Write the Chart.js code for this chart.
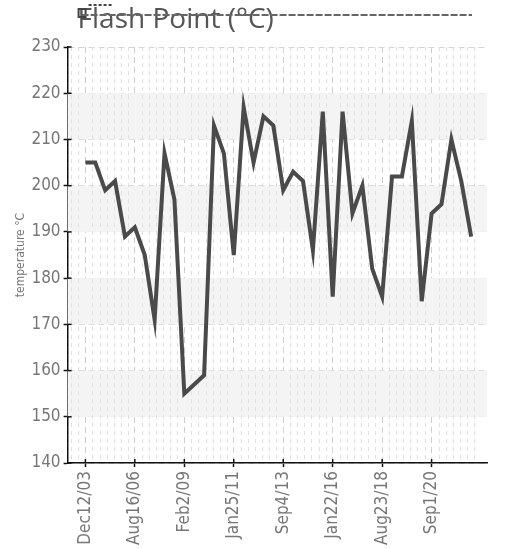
<!DOCTYPE html>
<html>
<head>
<meta charset="utf-8">
<script src="https://cdn.jsdelivr.net/npm/chart.js@4/dist/chart.umd.min.js"></script>
<style>
  html, body { margin: 0; padding: 0; background: #fff; }
  #wrap { width: 506px; height: 549px; position: relative; }
</style>
</head>
<body>
<div id="wrap"><canvas id="flashChart"></canvas></div>
<script>
// Flash point readings, one per sample (oldest first)
const flashPoint = [
  205, 205, 199, 201, 189, 191, 185, 171, 207, 197,
  155, 157, 159, 213, 207, 185, 217, 205, 215, 213,
  199, 203, 201, 186, 216, 176, 216, 194, 200, 182,
  176, 202, 202, 214, 175, 194, 196, 210, 201, 189
];
// x tick labels, one every 5 samples
const tickLabels = ['Dec12/03', 'Aug16/06', 'Feb2/09', 'Jan25/11', 'Sep4/13', 'Jan22/16', 'Aug23/18', 'Sep1/20'];
const labelEvery = 5;
const minorPerLabel = 7;
const yMin = 140, yMax = 230, yStep = 10;

// condensed face for axis text ('condensed' goes into the font shorthand via weight)
const narrowFont = (size) => ({ family: "'DejaVu Sans Condensed', 'DejaVu Sans', sans-serif", size: size, weight: 'condensed' });

const backdrop = {
  id: 'backdrop',
  beforeDatasetsDraw(chart) {
    const { ctx, chartArea: a, scales: { x, y } } = chart;
    ctx.save();
    // every other band between y ticks
    ctx.fillStyle = '#f4f4f4';
    const ticks = y.ticks.map(t => t.value);
    for (let i = 1; i < ticks.length - 1; i += 2) {
      const top = y.getPixelForValue(ticks[i + 1]);
      const bot = y.getPixelForValue(ticks[i]);
      ctx.fillRect(a.left, top, a.right - a.left, bot - top);
    }
    // minor vertical lines
    ctx.strokeStyle = '#e0e0e0';
    ctx.lineWidth = 1;
    ctx.setLineDash([4, 4]);
    const step = labelEvery / minorPerLabel;
    for (let k = Math.ceil(x.min / step); k * step <= x.max; k++) {
      if (k % minorPerLabel === 0) continue;
      const px = Math.round(x.getPixelForValue(k * step)) + 0.5;
      ctx.beginPath();
      ctx.moveTo(px, a.top);
      ctx.lineTo(px, a.bottom);
      ctx.stroke();
    }
    ctx.restore();
  },
  afterDraw(chart) {
    const { ctx, chartArea: a, scales: { x, y } } = chart;
    ctx.save();
    // inner half of the crossing tick marks
    ctx.strokeStyle = '#111';
    ctx.lineWidth = 1.5;
    y.ticks.forEach(t => {
      const py = y.getPixelForValue(t.value);
      ctx.beginPath(); ctx.moveTo(a.left, py); ctx.lineTo(a.left + 4, py); ctx.stroke();
    });
    x.ticks.forEach(t => {
      const px = x.getPixelForValue(t.value);
      ctx.beginPath(); ctx.moveTo(px, a.bottom); ctx.lineTo(px, a.bottom - 4); ctx.stroke();
    });
    // title
    ctx.font = "28px 'Open Sans', sans-serif";
    ctx.fillStyle = '#555';
    ctx.textBaseline = 'alphabetic';
    ctx.fillText('Flash Point (°C)', a.left + 10, 28);
    // leftover legend swatch behind the title
    ctx.strokeStyle = '#444';
    ctx.lineWidth = 2;
    ctx.strokeRect(a.left + 11, 9, 7, 8);
    ctx.setLineDash([3, 2]);
    ctx.beginPath();
    ctx.moveTo(a.left + 21, 5);
    ctx.lineTo(a.left + 46, 5);
    ctx.stroke();
    // stray dashed rule through the title
    ctx.strokeStyle = '#666';
    ctx.setLineDash([7, 2]);
    ctx.beginPath();
    ctx.moveTo(a.left + 14, 15);
    ctx.lineTo(a.right - 15, 15);
    ctx.stroke();
    ctx.restore();
  }
};

document.addEventListener('DOMContentLoaded', function() {
  const ctx = document.getElementById('flashChart');
  new Chart(ctx, {
    type: 'line',
    data: {
      datasets: [{
        data: flashPoint.map((v, i) => ({ x: i, y: v })),
        borderColor: '#4a4a4a',
        borderWidth: 4,
        borderJoinStyle: 'miter',
        pointRadius: 0,
        tension: 0,
        fill: false
      }]
    },
    options: {
      responsive: true,
      maintainAspectRatio: false,
      animation: false,
      layout: { padding: { top: 47, right: 19, left: 14, bottom: 0 } },
      plugins: {
        legend: { display: false },
        tooltip: { enabled: false },
        title: { display: false }
      },
      scales: {
        x: {
          type: 'linear',
          min: -1.8,
          max: 40.6,
          afterBuildTicks: (scale) => {
            scale.ticks = tickLabels.map((_, i) => ({ value: i * labelEvery }));
          },
          ticks: {
            autoSkip: false,
            minRotation: 90,
            maxRotation: 90,
            color: '#777',
            font: narrowFont(17),
            padding: 4,
            callback: (v) => tickLabels[Math.round(v / labelEvery)]
          },
          grid: { color: '#cfcfcf', tickColor: '#111', tickLength: 4, tickWidth: 1.5 },
          border: { color: '#111', width: 1.5, dash: [6, 4] }
        },
        y: {
          min: yMin,
          max: yMax,
          ticks: {
            stepSize: yStep,
            color: '#777',
            font: narrowFont(17),
            padding: 3
          },
          title: {
            display: true,
            text: 'temperature °C',
            color: '#777',
            font: narrowFont(12),
            padding: 0
          },
          grid: { color: '#d4d4d4', tickColor: '#111', tickLength: 4, tickWidth: 1.5 },
          border: { color: '#111', width: 1.5, dash: [6, 4] }
        }
      }
    },
    plugins: [backdrop]
  });
});
</script>
</body>
</html>
